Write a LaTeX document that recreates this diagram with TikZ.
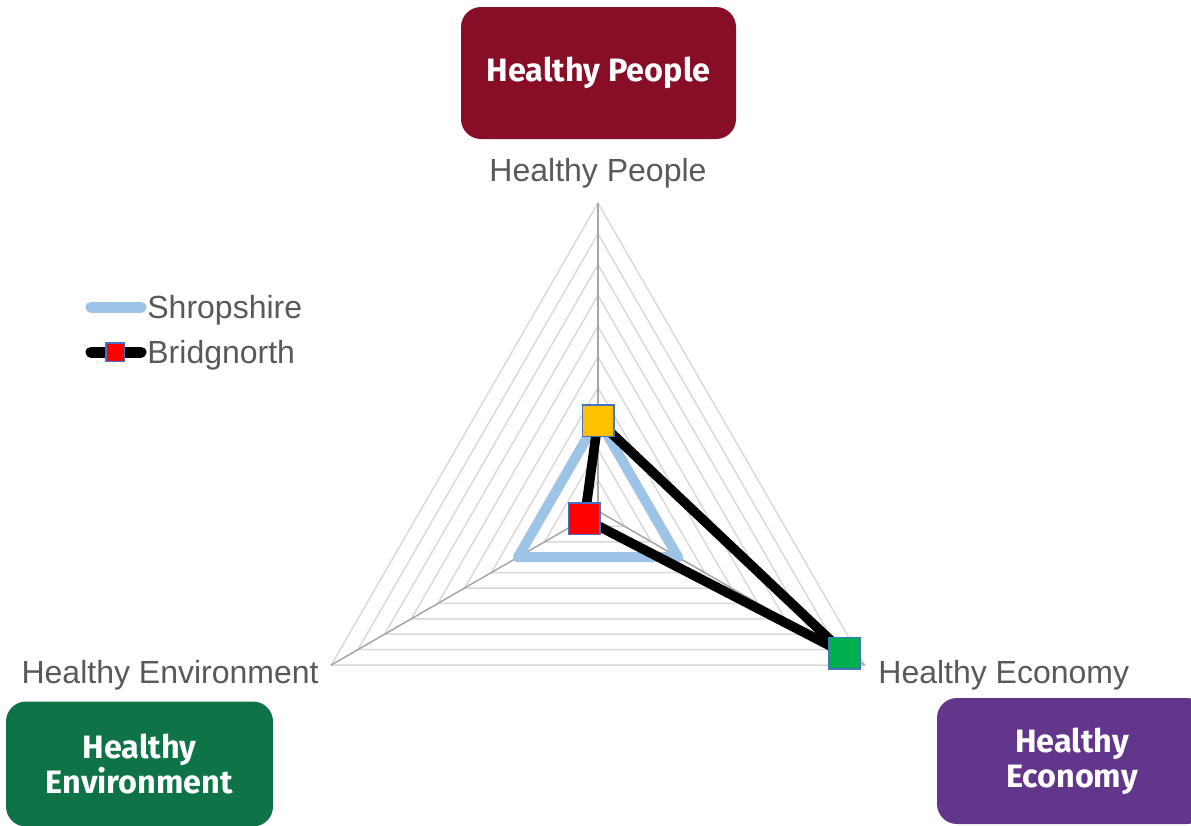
\documentclass[tikz,border=0pt]{standalone}
\usepackage{fontspec}
\setmainfont{Liberation Sans}
\newfontfamily\boxfont{Fira Sans}
\definecolor{peoplered}{HTML}{880E28}
\definecolor{envgreen}{HTML}{0E7448}
\definecolor{econpurple}{HTML}{61368B}
\definecolor{gridgray}{HTML}{D9D9D9}
\definecolor{axisgray}{HTML}{A6A6A6}
\definecolor{labelgray}{HTML}{595959}
\definecolor{shropblue}{HTML}{9DC3E6}
\definecolor{markerblue}{HTML}{4472C4}
\definecolor{markeryellow}{HTML}{FFC000}
\definecolor{markergreen}{HTML}{00B050}
\definecolor{markerred}{HTML}{FF0000}
\tikzset{
    gridline/.style={draw=gridgray, line width=0.75pt},
    axisline/.style={draw=axisgray, line width=0.75pt},
    axislabel/.style={text=labelgray, font=\fontsize{16}{19}\selectfont, inner sep=0pt},
    themebox/.style={rounded corners=10pt, text=white, align=center, inner sep=0pt,
        font=\boxfont\bfseries\fontsize{16.2}{17.5}\selectfont},
    shropline/.style={draw=shropblue, line width=5pt, line join=round, line cap=round},
    bnline/.style={draw=black, line width=4.8pt, line join=round, line cap=round},
    marker/.style={draw=markerblue, line width=0.75pt, minimum size=15.75pt, inner sep=0pt}
}
\begin{document}
\begin{tikzpicture}[x=0.5pt, y=-0.5pt]
    \useasboundingbox (0, 0) rectangle (1191, 826);

    % theme boxes
    \node[themebox, fill=peoplered, minimum width=137.5pt, minimum height=66pt] (boxP) at (598.5, 73) {Healthy People};
    \node[themebox, fill=envgreen, minimum width=133.5pt, minimum height=62.5pt] (boxEn) at (139.5, 764) {Healthy\\Environment};
    \node[themebox, fill=econpurple, minimum width=135pt, minimum height=63pt] (boxEc) at (1072, 761) {Healthy\\Economy};

    % legend
    \coordinate (shrA) at (91, 307); \coordinate (shrB) at (141, 307);
    \coordinate (bnA) at (91, 352);  \coordinate (bnB) at (141, 352);
    \draw[shropline, line width=5.5pt] (shrA) -- (shrB);
    \draw[bnline, line width=5.5pt] (bnA) -- (bnB);
    \node[marker, fill=markerred, minimum size=9.25pt] (legMk) at (115, 352) {};
    \node[axislabel, anchor=base west] (legShr) at (147, 318) {Shropshire};
    \node[axislabel, anchor=base west] (legBn) at (147, 363) {Bridgnorth};

    \begin{scope}[shift={(598, 511)}]
        \coordinate (ctr) at (0, 0);
        \foreach \k in {1, 2, ..., 10}
            \draw[gridline] (-90:{30.8*\k}) -- (30:{30.8*\k}) -- (150:{30.8*\k}) -- cycle;

        \coordinate (axP) at (-90:308); \coordinate (axEc) at (30:308); \coordinate (axEn) at (150:308);
        \draw[axisline] (ctr) -- (axP); \draw[axisline] (ctr) -- (axEc); \draw[axisline] (ctr) -- (axEn);

        \node[axislabel, anchor=base] (labP) at (0, -330) {Healthy People};
        \node[axislabel, anchor=base east] (labEn) at (-279, 172) {Healthy Environment};
        \node[axislabel, anchor=base west] (labEc) at (280, 172) {Healthy Economy};

        \coordinate (shrP) at (-90:92.4); \coordinate (shrEc) at (30:92.4); \coordinate (shrEn) at (150:92.4);
        \draw[shropline] (shrP) -- (shrEc) -- (shrEn) -- cycle;

        \coordinate (bnP) at (-90:90.5); \coordinate (bnEc) at (30:284.3); \coordinate (bnEn) at (150:15.6);
        \draw[bnline] (bnP) -- (bnEc) -- (bnEn) -- cycle;

        \node[marker, fill=markeryellow] (mkP) at (bnP) {};   %  people
        \node[marker, fill=markergreen]  (mkEc) at (bnEc) {}; %  economy
        \node[marker, fill=markerred]    (mkEn) at (bnEn) {}; %  environment
    \end{scope}
\end{tikzpicture}
\end{document}
